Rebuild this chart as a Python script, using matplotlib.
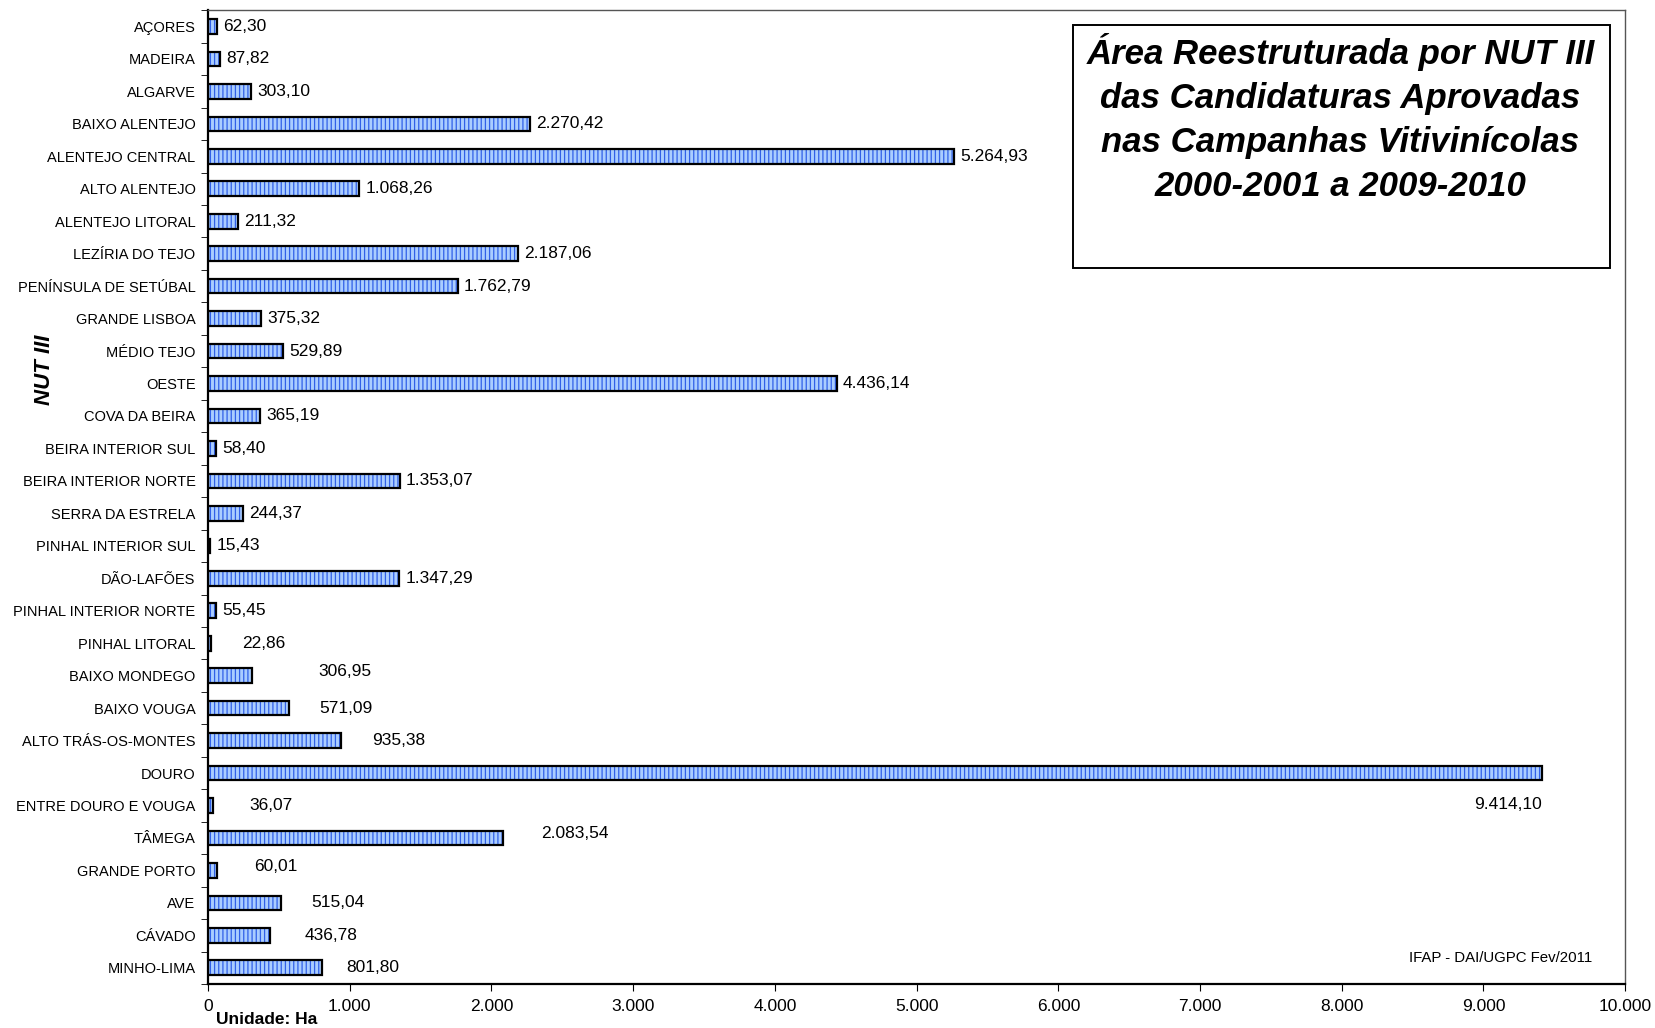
import numpy as np
import matplotlib.pyplot as plt

plt.rcParams['font.family'] = ['Liberation Sans', 'DejaVu Sans']
plt.rcParams['hatch.linewidth'] = 0.9

# categorias (de cima para baixo)
regioes = ['AÇORES', 'MADEIRA', 'ALGARVE', 'BAIXO ALENTEJO', 'ALENTEJO CENTRAL',
           'ALTO ALENTEJO', 'ALENTEJO LITORAL', 'LEZÍRIA DO TEJO', 'PENÍNSULA DE SETÚBAL',
           'GRANDE LISBOA', 'MÉDIO TEJO', 'OESTE', 'COVA DA BEIRA', 'BEIRA INTERIOR SUL',
           'BEIRA INTERIOR NORTE', 'SERRA DA ESTRELA', 'PINHAL INTERIOR SUL', 'DÃO-LAFÕES',
           'PINHAL INTERIOR NORTE', 'PINHAL LITORAL', 'BAIXO MONDEGO', 'BAIXO VOUGA',
           'ALTO TRÁS-OS-MONTES', 'DOURO', 'ENTRE DOURO E VOUGA', 'TÂMEGA', 'GRANDE PORTO',
           'AVE', 'CÁVADO', 'MINHO-LIMA']
area = [62.30, 87.82, 303.10, 2270.42, 5264.93, 1068.26, 211.32, 2187.06, 1762.79,
        375.32, 529.89, 4436.14, 365.19, 58.40, 1353.07, 244.37, 15.43, 1347.29,
        55.45, 22.86, 306.95, 571.09, 935.38, 9414.10, 36.07, 2083.54, 60.01,
        515.04, 436.78, 801.80]

# deslocamento das etiquetas (pontos), como no Excel
dx = [4.5] * 19 + [22, 48, 22, 23, 0, 26, 27, 27, 22, 25, 18]
dy = [0] * 19 + [0, 3, 0, 0, -23, 0, 3, 3, 0, 0, 0]

def fmt(v):
    s = '{:,.2f}'.format(v)
    return s.replace(',', ' ').replace('.', ',').replace(' ', '.')

fig = plt.figure(figsize=(16.55, 10.28), dpi=100)
ax = fig.add_axes([0.1257, 0.0428, 0.8563, 0.9472])

y = np.arange(len(regioes))
ax.barh(y, area, height=0.45, color='#aacdff', edgecolor='#3060e8', hatch='||||', linewidth=0)
ax.barh(y, area, height=0.45, fill=False, edgecolor='black', linewidth=1.6)

for i, v in enumerate(area):
    if dy[i] < -10:
        ax.annotate(fmt(v), (v, i), xytext=(0, dy[i]), textcoords='offset points',
                    ha='right', va='center', fontsize=12.5)
    else:
        ax.annotate(fmt(v), (v, i), xytext=(dx[i], dy[i]), textcoords='offset points',
                    ha='left', va='center', fontsize=12.5)

ax.set_ylim(len(regioes) - 0.5, -0.5)
ax.set_yticks(y)
ax.set_yticklabels(regioes, fontsize=10.5)
ax.set_yticks(np.arange(-0.5, len(regioes)), minor=True)
ax.tick_params(axis='y', which='major', length=0, pad=9)
ax.tick_params(axis='y', which='minor', length=5, direction='out')

ax.set_xlim(0, 10000)
ax.set_xticks(np.arange(0, 10001, 1000))
ax.set_xticklabels([fmt(t)[:-3] for t in np.arange(0, 10001, 1000)], fontsize=12.5)
ax.tick_params(axis='x', length=5, direction='out', pad=6)

for s in ['top', 'right']:
    ax.spines[s].set_color('#555555')
    ax.spines[s].set_linewidth(1.0)
for s in ['left', 'bottom']:
    ax.spines[s].set_linewidth(1.6)

ax.set_ylabel('NUT III', fontsize=16, fontweight='bold', style='italic')
ax.yaxis.set_label_coords(-0.108, 0.631)
fig.text(0.1305, 0.004, 'Unidade: Ha', fontsize=12.5, fontweight='bold')

titulo = 'Área Reestruturada por NUT III\ndas Candidaturas Aprovadas\nnas Campanhas Vitivinícolas\n2000-2001 a 2009-2010'
ax.text(0.799, 0.889, titulo, transform=ax.transAxes, ha='center', va='center', fontsize=25,
        fontweight='bold', style='italic', linespacing=1.42)
ax.add_patch(plt.Rectangle((0.610, 0.735), 0.379, 0.2495, transform=ax.transAxes,
                           fill=False, edgecolor='black', linewidth=1.4))

ax.text(0.977, 0.02, 'IFAP - DAI/UGPC Fev/2011', transform=ax.transAxes, ha='right',
        va='bottom', fontsize=10.8)

plt.savefig('out.png', dpi=100)
